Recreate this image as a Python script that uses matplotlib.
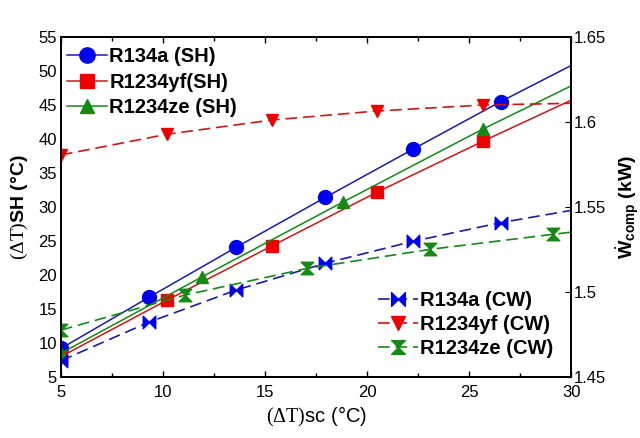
import numpy as np
import matplotlib
matplotlib.use("Agg")
import matplotlib.pyplot as plt
from matplotlib.path import Path
from matplotlib.ticker import MultipleLocator, FuncFormatter

plt.rcParams['font.family'] = ['Liberation Sans', 'DejaVu Sans']
plt.rcParams['mathtext.fontset'] = 'custom'
plt.rcParams['mathtext.rm'] = 'Liberation Serif'
plt.rcParams['mathtext.bf'] = 'Liberation Sans:bold'
plt.rcParams['mathtext.sf'] = 'Liberation Sans'

# superheating (left axis)
x_134a = [5, 9.3, 13.6, 17.95, 22.25, 26.55, 30]
sh_134a = [9.2, 16.7, 24.1, 31.4, 38.5, 45.5, 50.8]
x_yf = [5, 10.2, 15.35, 20.5, 25.7, 30]
sh_yf = [8.0, 16.3, 24.3, 32.2, 39.7, 45.7]
x_ze_sh = [5, 11.9, 18.8, 25.7, 30]
sh_ze = [8.5, 19.7, 30.7, 41.5, 47.8]

# compressor work (right axis)
cw_134a = [1.4596, 1.4822, 1.5012, 1.5169, 1.5298, 1.5408, 1.548]
cw_yf = [1.5806, 1.5928, 1.6012, 1.6065, 1.6100, 1.611]
x_ze_cw = [5, 11.08, 17.07, 23.1, 29.1, 30]
cw_ze = [1.4776, 1.4982, 1.5139, 1.5251, 1.5339, 1.5352]

bowtie = Path([(-1, -1), (0, 0), (-1, 1), (-1, -1), (1, -1), (0, 0), (1, 1), (1, -1)],
              [Path.MOVETO, Path.LINETO, Path.LINETO, Path.CLOSEPOLY,
               Path.MOVETO, Path.LINETO, Path.LINETO, Path.CLOSEPOLY])
hourglass = Path([(-1, -1), (0, 0), (1, -1), (-1, -1), (-1, 1), (0, 0), (1, 1), (-1, 1)],
                 [Path.MOVETO, Path.LINETO, Path.LINETO, Path.CLOSEPOLY,
                  Path.MOVETO, Path.LINETO, Path.LINETO, Path.CLOSEPOLY])

blue = '#0000ee'
red = '#ee0000'
green = '#138a13'

fig = plt.figure(figsize=(6.4, 4.38), dpi=100)
ax = fig.add_axes([0.0953, 0.1393, 0.797, 0.7762])
ax2 = ax.twinx()

l1, = ax.plot(x_134a, sh_134a, '-', color='#1a1ab0', lw=1.1, marker='o', ms=10,
              mfc=blue, mec=blue, markevery=list(range(len(x_134a) - 1)), label='R134a (SH)')
l2, = ax.plot(x_yf, sh_yf, '-', color='#d01515', lw=1.1, marker='s', ms=9,
              mfc=red, mec=red, markevery=list(range(len(x_yf) - 1)), label='R1234yf(SH)')
l3, = ax.plot(x_ze_sh, sh_ze, '-', color=green, lw=1.1, marker='^', ms=9,
              mfc=green, mec=green, markevery=list(range(len(x_ze_sh) - 1)), label='R1234ze (SH)')

l4, = ax2.plot(x_134a, cw_134a, '--', color='#1a1ab0', lw=1.2, dashes=(7, 3.5), marker=bowtie, ms=9,
               mfc=blue, mec=blue, markevery=list(range(len(x_134a) - 1)), label='R134a (CW)')
l5, = ax2.plot(x_yf, cw_yf, '--', color='#d01515', lw=1.2, dashes=(7, 3.5), marker='v', ms=9,
               mfc=red, mec=red, markevery=list(range(len(x_yf) - 1)), label='R1234yf (CW)')
l6, = ax2.plot(x_ze_cw, cw_ze, '--', color=green, lw=1.2, dashes=(7, 3.5), marker=hourglass, ms=9,
               mfc=green, mec=green, markevery=list(range(len(x_ze_cw) - 1)), label='R1234ze (CW)')

ax.set_xlim(5, 30)
ax.set_ylim(5, 55)
ax2.set_ylim(1.45, 1.65)
ax.xaxis.set_major_locator(MultipleLocator(5))
ax.xaxis.set_minor_locator(MultipleLocator(2.5))
ax.yaxis.set_major_locator(MultipleLocator(5))
ax2.yaxis.set_major_locator(MultipleLocator(0.05))
ax2.yaxis.set_major_formatter(FuncFormatter(lambda v, p: ('%.2f' % v).rstrip('0')))

ax.tick_params(axis='both', which='both', direction='in', top=True, labelsize=12, width=1)
ax.tick_params(axis='x', which='major', length=4, pad=6)
ax.tick_params(axis='x', which='minor', length=3)
ax.tick_params(axis='y', length=0, pad=3)
ax2.tick_params(axis='y', direction='in', labelsize=12, length=4, pad=2)
for a in (ax, ax2):
    for s in a.spines.values():
        s.set_linewidth(1.3)

ax.set_xlabel(r'$\mathrm{(\Delta T)}$sc (°C)', fontsize=14.5, labelpad=3)
ax.set_ylabel(r'$\mathrm{(\Delta T)}$SH (°C)', fontsize=14, fontweight='bold', labelpad=6)
ax2.set_ylabel(r'$\dot{\mathbf{W}}_{\mathbf{comp}}$ (kW)', fontsize=14, fontweight='bold', labelpad=5)

leg1 = ax.legend(handles=[l1, l2, l3], loc='upper left', bbox_to_anchor=(0.012, 0.97),
                 frameon=False, prop={'weight': 'bold', 'size': 14.5}, handlelength=2.0,
                 handletextpad=0.1, labelspacing=0.32, borderpad=0, borderaxespad=0,
                 markerscale=1.1)
ax2.legend(handles=[l4, l5, l6], loc='lower right', bbox_to_anchor=(0.965, 0.055),
           frameon=False, prop={'weight': 'bold', 'size': 14.5}, handlelength=2.0,
           handletextpad=0.1, labelspacing=0.25, borderpad=0, borderaxespad=0,
           markerscale=1.1)

fig.savefig('out.png', dpi=100)
